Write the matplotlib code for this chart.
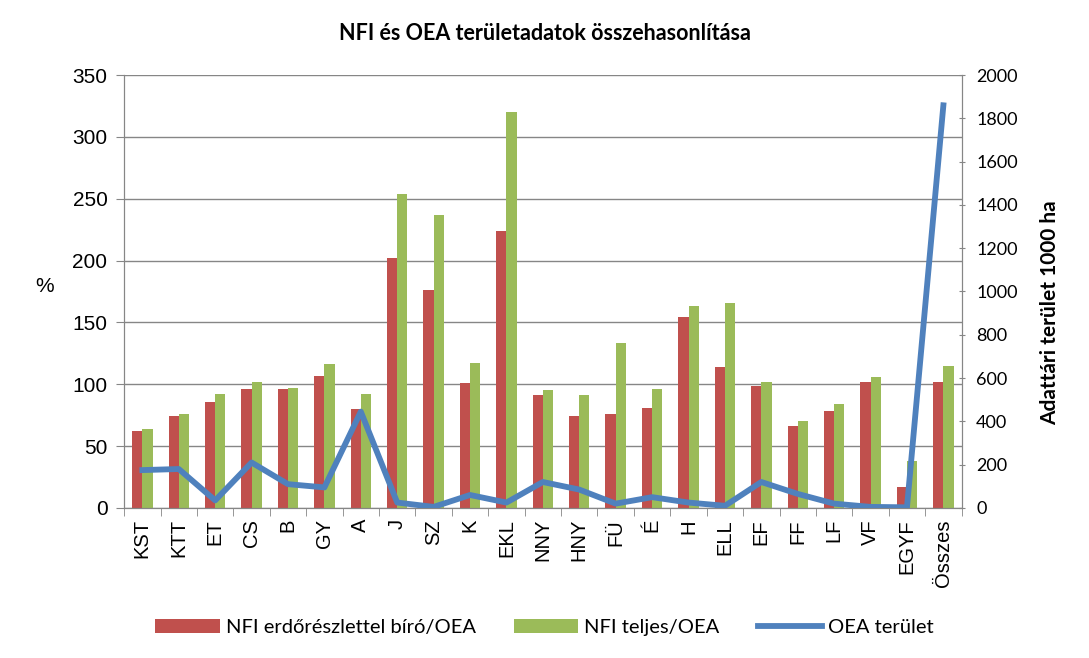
import numpy as np
import matplotlib
matplotlib.use("Agg")
import matplotlib.pyplot as plt

categories = ["KST", "KTT", "ET", "CS", "B", "GY", "A", "J", "SZ", "K", "EKL",
              "NNY", "HNY", "FÜ", "É", "H", "ELL", "EF", "FF", "LF", "VF",
              "EGYF", "Összes"]
nfi_biro = [62, 74, 86, 96, 96, 107, 80, 202, 176, 101, 224,
            91, 74, 76, 81, 154, 114, 99, 66, 78, 102, 17, 102]
nfi_teljes = [64, 76, 92, 102, 97, 116, 92, 254, 237, 117, 320,
              95, 91, 133, 96, 163, 166, 102, 70, 84, 106, 38, 115]
oea_terulet = [175, 180, 35, 210, 110, 95, 445, 25, 5, 60, 25,
               120, 85, 20, 50, 25, 10, 120, 65, 20, 5, 3, 1860]

plt.rcParams['font.family'] = ['Liberation Sans', 'DejaVu Sans']
calibri_like = ['Lato', 'DejaVu Sans']

fig = plt.figure(figsize=(10.89, 6.58), dpi=100)
ax = fig.add_axes([0.114, 0.228, 0.769, 0.658])
ax2 = ax.twinx()

x = np.arange(len(categories))
w = 0.28
b1 = ax.bar(x - w / 2, nfi_biro, w, color='#c0504d', label='NFI erdőrészlettel bíró/OEA', zorder=2)
b2 = ax.bar(x + w / 2, nfi_teljes, w, color='#9bbb59', label='NFI teljes/OEA', zorder=2)
l1, = ax2.plot(x, oea_terulet, color='#4f81bd', lw=4.2, label='OEA terület', zorder=3)

ax.set_xlim(-0.5, len(categories) - 0.5)
ax.set_ylim(0, 350)
ax.set_yticks(np.arange(0, 351, 50))
ax2.set_ylim(0, 2000)
ax2.set_yticks(np.arange(0, 2001, 200))

ax.yaxis.grid(True, color='#868686', lw=1)
ax.set_axisbelow(True)
ax.spines['top'].set_visible(False)
ax2.spines['top'].set_visible(False)
for s in ['left', 'bottom', 'right']:
    ax.spines[s].set_color('#868686')
    ax2.spines[s].set_color('#868686')

ax.set_xticks(x)
ax.set_xticklabels(categories, rotation=90, fontsize=14.5)
ax.tick_params(axis='x', which='major', length=0, pad=8)
ax.set_xticks(np.arange(-0.5, len(categories), 1), minor=True)
ax.tick_params(axis='x', which='minor', length=6, color='#868686')
ax.tick_params(axis='y', labelsize=15, length=6, color='#868686', pad=6)
ax2.tick_params(axis='y', labelsize=13, length=5, color='#868686', direction='inout', pad=8)
for t in ax2.get_yticklabels():
    t.set_family(calibri_like)

ax.set_ylabel('%', rotation=0, fontsize=15, labelpad=30)
ax.yaxis.set_label_coords(-0.095, 0.49)
ax2.set_ylabel('Adattári terület 1000 ha', fontsize=15, fontweight='bold',
               family=calibri_like)
ax2.yaxis.set_label_coords(1.094, 0.45)

fig.suptitle('NFI és OEA területadatok összehasonlítása', fontsize=15.5, fontweight='bold', y=0.965,
             family=calibri_like)

fig.legend(handles=[b1, b2, l1], loc='center', bbox_to_anchor=(0.5, 0.047), ncol=3,
           frameon=False, prop={'family': calibri_like, 'size': 14.5},
           handlelength=3.2, columnspacing=1.9, handletextpad=0.3)

fig.savefig('out.png', dpi=100)
